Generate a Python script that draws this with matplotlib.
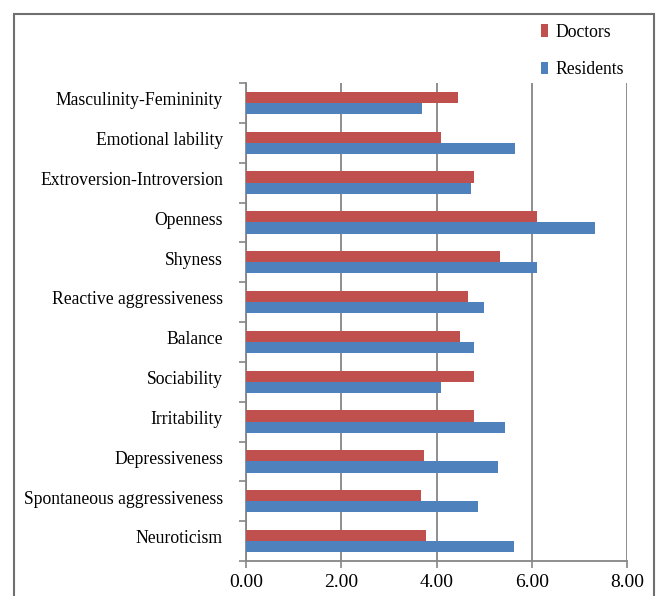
import numpy as np
import matplotlib.pyplot as plt
from matplotlib.patches import Rectangle
from matplotlib.transforms import ScaledTranslation

# Data (top to bottom as shown in the chart)
traits = [
    "Masculinity-Femininity",
    "Emotional lability",
    "Extroversion-Introversion",
    "Openness",
    "Shyness",
    "Reactive aggressiveness",
    "Balance",
    "Sociability",
    "Irritability",
    "Depressiveness",
    "Spontaneous aggressiveness",
    "Neuroticism",
]
doctors = [4.46, 4.10, 4.78, 6.11, 5.34, 4.67, 4.50, 4.78, 4.78, 3.73, 3.67, 3.77]
residents = [3.70, 5.64, 4.73, 7.33, 6.11, 4.99, 4.79, 4.09, 5.44, 5.28, 4.87, 5.63]
x_ticks = [0, 2, 4, 6, 8]

red = "#C0504D"
blue = "#4F81BD"
grey = "#868686"

plt.rcParams["font.family"] = ["Liberation Serif", "DejaVu Serif"]

fig = plt.figure(figsize=(6.56, 5.96), dpi=100)
ax = fig.add_axes([0.375, 0.0587, 0.581, 0.802])

n = len(traits)
ypos = np.arange(n)[::-1]
h = 0.28
ax.barh(ypos + h / 2, doctors, height=h, color=red, label="Doctors", zorder=3)
ax.barh(ypos - h / 2, residents, height=h, color=blue, label="Residents", zorder=3)

ax.set_xlim(0, 8)
ax.set_ylim(-0.5, n - 0.5)
ax.set_xticks(x_ticks)
ax.set_xticklabels([f"{v:.2f}" for v in x_ticks], fontsize=14)
ax.grid(axis="x", color=grey, linewidth=1.3, zorder=0)

# category boundaries as major ticks, names as minor ticks
ax.set_yticks(np.arange(-0.5, n, 1.0))
ax.set_yticklabels([])
ax.set_yticks(ypos, minor=True)
ax.set_yticklabels(traits, minor=True, fontsize=12.7)
ax.tick_params(axis="y", which="major", length=5, color=grey, width=1.2)
ax.tick_params(axis="y", which="minor", length=0, pad=16.5)
ax.tick_params(axis="x", length=5, color=grey, width=1.2, pad=4)

# labels sit a little above the category centre in the original
shift = ScaledTranslation(0, 3 / 72, fig.dpi_scale_trans)
for lbl in ax.get_yticklabels(minor=True):
    lbl.set_transform(lbl.get_transform() + shift)

for s in ["top", "right"]:
    ax.spines[s].set_visible(False)
for s in ["left", "bottom"]:
    ax.spines[s].set_color(grey)
    ax.spines[s].set_linewidth(1.3)

leg = fig.legend(loc="upper left", bbox_to_anchor=(0.8, 0.987), frameon=False,
                 fontsize=12.7, handlelength=0.4, handleheight=0.7,
                 handletextpad=0.45, labelspacing=1.15)

# outer frame around the figure
fig.add_artist(Rectangle((0.0213, -0.05), 0.9756, 1.0265, transform=fig.transFigure,
                         fill=False, edgecolor="#6f6f6f", linewidth=1.5))

fig.savefig("out.png", dpi=100)
